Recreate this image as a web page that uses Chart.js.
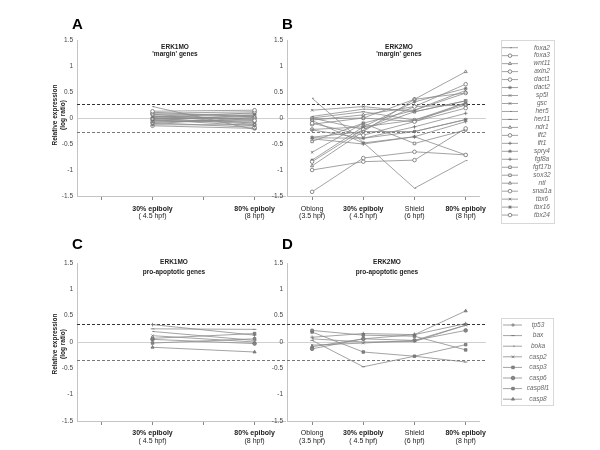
<!DOCTYPE html>
<html>
<head>
<meta charset="utf-8">
<script src="https://cdn.jsdelivr.net/npm/chart.js@4.4.0/dist/chart.umd.min.js"></script>
<style>
  body { margin: 0; background: #fff; width: 600px; height: 450px; position: relative; overflow: hidden; }
  canvas { position: absolute; }
</style>
</head>
<body>
<canvas id="chartA" width="290" height="230" style="left:0;top:0"></canvas>
<canvas id="chartB" width="310" height="230" style="left:250px;top:0"></canvas>
<canvas id="chartC" width="290" height="220" style="left:0;top:230px"></canvas>
<canvas id="chartD" width="310" height="220" style="left:250px;top:230px"></canvas>
<script>
// stages on the x axis
const stages = ['Oblong', '30% epiboly', 'Shield', '80% epiboly'];
const stageHpf = ['(3.5 hpf)', '( 4.5 hpf)', '(6 hpf)', '(8 hpf)'];
const stageBold = [false, true, false, true];
const yTicks = [-1.5, -1, -0.5, 0, 0.5, 1, 1.5];

// 'margin' genes
const marginGenes = ['foxa2', 'foxa3', 'wnt11', 'axin2', 'dact1', 'dact2', 'sp5l', 'gsc', 'her5', 'her11', 'ndr1',
  'lft2', 'lft1', 'spry4', 'fgf8a', 'fgf17b', 'sox32', 'ntl', 'snai1a', 'tbx6', 'tbx16', 'tbx24'];
const marginMarkers = ['dash', 'circle', 'triangle', 'circle', 'circle', 'star', 'crossRot', 'crossRot', 'dash', 'line', 'triangle',
  'circle', 'cross', 'star', 'cross', 'rect', 'rect', 'triangle', 'circle', 'crossRot', 'star', 'circle'];

// ERK1MO, margin genes (log ratio)
const erk1Margin30 = [0.22, 0.13, 0.11, 0.09, 0.07, 0.06, 0.04, 0.03, 0.02, 0.01, 0.0, -0.01, -0.02, -0.03, -0.04, -0.05, -0.06, -0.08, -0.09, -0.11, -0.13, -0.15];
const erk1Margin80 = [-0.22, 0.15, 0.02, 0.12, -0.05, 0.08, -0.1, 0.05, -0.02, 0.1, -0.12, 0.0, 0.03, -0.15, -0.06, 0.06, -0.08, -0.03, -0.18, 0.01, -0.13, -0.2];

// ERK2MO, margin genes
const erk2MarginOblong = [0.38, -1.42, -0.92, -1.0, -0.84, -0.81, -0.66, 0.15, 0.03, 0.0, -0.04, -0.10, -0.23, -0.37, -0.40, -0.45, 0.0, -0.02, -0.22, -0.38, -0.05, -0.12];
const erk2Margin30 = [-0.47, -0.77, -0.26, -0.84, -0.22, -0.17, -0.10, 0.22, 0.17, 0.12, 0.06, -0.33, -0.39, -0.26, -0.50, -0.10, -0.22, 0.0, -0.17, -0.39, -0.48, 0.0];
const erk2MarginShield = [-1.35, -0.65, 0.36, -0.81, 0.22, 0.31, 0.15, 0.12, 0.15, -0.04, 0.22, -0.07, -0.17, -0.26, -0.36, -0.49, 0.12, -0.07, -0.04, -0.26, -0.36, 0.36];
const erk2Margin80 = [-0.82, -0.71, 0.89, -0.20, 0.65, 0.57, 0.53, 0.33, 0.48, 0.29, 0.25, 0.19, 0.09, -0.03, -0.07, -0.23, 0.33, 0.29, 0.25, -0.03, -0.71, 0.48];

// pro-apoptotic genes
const apoGenes = ['tp53', 'bax', 'boka', 'casp2', 'casp3', 'casp6', 'casp8l1', 'casp8'];
const apoMarkers = ['cross', 'line', 'dash', 'crossRot', 'rect', 'circle', 'rect', 'triangle'];

const erk1Apo30 = [0.33, 0.25, 0.20, 0.12, 0.07, 0.05, -0.02, -0.10];
const erk1Apo80 = [0.13, 0.24, 0.03, 0.0, 0.16, -0.03, 0.06, -0.19];

const erk2ApoOblong = [0.09, 0.03, 0.06, -0.06, 0.22, -0.13, 0.19, -0.09];
const erk2Apo30 = [0.16, -0.47, 0.0, -0.02, 0.13, 0.06, -0.19, 0.06];
const erk2ApoShield = [0.14, -0.27, 0.01, 0.03, 0.11, 0.03, -0.27, 0.14];
const erk2Apo80 = [0.35, -0.38, 0.32, 0.32, -0.15, 0.22, -0.05, 0.59];

const family = "'Liberation Sans', Arial, sans-serif";
Chart.defaults.font.family = family;

// turns per-stage arrays into one dataset per gene
function makeDatasets(genes, markers, columns, fill) {
  return genes.map((g, i) => ({
    label: g,
    data: columns.map(c => ({ x: c.stage + 1, y: c.values[i] })),
    borderColor: '#8c8c8c',
    borderWidth: 0.8,
    pointStyle: markers[i],
    pointRadius: 1.8,
    pointBorderWidth: 0.8,
    pointBorderColor: '#707070',
    pointBackgroundColor: fill
  }));
}

const panelDecor = {
  id: 'panelDecor',
  beforeDatasetsDraw(chart, args, o) {
    const { ctx, chartArea: a, scales: { y } } = chart;
    const x1 = a.right + o.refExtend;
    ctx.save();
    ctx.lineWidth = 1;
    ctx.strokeStyle = '#d0d0d0';
    let py = Math.round(y.getPixelForValue(0)) + 0.5;
    ctx.beginPath(); ctx.moveTo(a.left, py); ctx.lineTo(x1, py); ctx.stroke();
    ctx.setLineDash([3, 2]);
    [o.cutoff, -o.cutoff].forEach((v, i) => {
      ctx.strokeStyle = i ? '#777' : '#333';
      py = Math.round(y.getPixelForValue(v)) + 0.5;
      ctx.beginPath(); ctx.moveTo(a.left, py); ctx.lineTo(x1, py); ctx.stroke();
    });
    ctx.restore();
  },
  afterDraw(chart, args, o) {
    const { ctx, chartArea: a, scales: { x } } = chart;
    ctx.save();
    ctx.fillStyle = '#222';
    ctx.textAlign = 'center';
    ctx.textBaseline = 'middle';
    o.stageIdx.forEach(i => {
      const px = x.getPixelForValue(i + 1);
      ctx.font = (stageBold[i] ? 'bold ' : '') + '7px ' + family;
      ctx.fillText(stages[i], px, a.bottom + o.labelDy[0]);
      ctx.font = '7px ' + family;
      ctx.fillText(stageHpf[i], px, a.bottom + o.labelDy[1]);
    });
    ctx.font = 'bold 6.5px ' + family;
    o.title.forEach((t, k) => ctx.fillText(t, o.titleX, o.titleY[k]));

    if (o.yTitle) {
      ctx.save();
      ctx.translate(o.yTitle[0], o.yTitle[1]);
      ctx.rotate(-Math.PI / 2);
      ctx.font = 'bold 6.5px ' + family;
      ctx.fillText('Relative expression', 0, 0);
      ctx.fillText('(log ratio)', 0, 8);
      ctx.restore();
    }

    ctx.font = 'bold 15px ' + family;
    ctx.fillStyle = '#000';
    ctx.textAlign = 'left';
    ctx.textBaseline = 'alphabetic';
    ctx.fillText(o.letter, o.letterPos[0], o.letterPos[1]);

    const L = o.legend;
    if (L) {
      ctx.strokeStyle = '#d8d8d8';
      ctx.lineWidth = 1;
      ctx.strokeRect(L.box[0] + 0.5, L.box[1] + 0.5, L.box[2], L.box[3]);
      chart.data.datasets.forEach((ds, i) => {
        const ry = L.rowY + i * L.rowH;
        ctx.strokeStyle = ds.borderColor;
        ctx.lineWidth = 0.8;
        ctx.beginPath(); ctx.moveTo(L.line[0], ry); ctx.lineTo(L.line[1], ry); ctx.stroke();
        ctx.fillStyle = ds.pointBackgroundColor;
        ctx.strokeStyle = ds.pointBorderColor;
        ctx.lineWidth = ds.pointBorderWidth;
        Chart.helpers.drawPoint(ctx, { pointStyle: ds.pointStyle, radius: ds.pointRadius, borderWidth: ds.pointBorderWidth, rotation: 0 }, L.markX, ry);
        ctx.fillStyle = '#666';
        ctx.font = 'italic 6.5px ' + family;
        ctx.textAlign = 'center';
        ctx.textBaseline = 'middle';
        ctx.fillText(ds.label, L.textX, ry);
      });
    }
    ctx.restore();
  }
};

function panelConfig(datasets, p) {
  return {
    type: 'line',
    data: { datasets },
    options: {
      responsive: false,
      animation: false,
      events: [],
      layout: { padding: p.padding },
      elements: { line: { tension: 0 } },
      plugins: { legend: { display: false }, tooltip: { enabled: false }, panelDecor: p.decor },
      scales: {
        x: {
          type: 'linear', min: p.xMin, max: p.xMax,
          afterBuildTicks: s => { s.ticks = stages.map((_, i) => ({ value: i + 1 })); },
          afterFit: s => { s.height = 4; },
          ticks: { display: false },
          grid: { display: true, drawOnChartArea: false, drawTicks: true, tickLength: 4, color: '#888' },
          border: { display: true, color: '#c4c4c4' }
        },
        y: {
          min: -1.5, max: 1.5,
          afterBuildTicks: s => { s.ticks = yTicks.map(v => ({ value: v })); },
          afterFit: s => { s.width = 20; },
          ticks: { font: { size: 6.5 }, color: '#444', padding: 4, callback: v => String(v) },
          grid: { display: false, drawTicks: false },
          border: { display: true, color: '#c4c4c4' }
        }
      }
    },
    plugins: [panelDecor]
  };
}

new Chart(document.getElementById('chartA'), panelConfig(
  makeDatasets(marginGenes, marginMarkers, [
    { stage: 1, values: erk1Margin30 }, { stage: 3, values: erk1Margin80 }], '#fff'),
  {
    padding: { left: 57, right: 3, top: 40, bottom: 30 }, xMin: 0.52, xMax: 4.6,
    decor: { cutoff: 0.26, refExtend: 0, stageIdx: [1, 3], labelDy: [13, 20],
      title: ['ERK1MO', "'margin' genes"], titleX: 175, titleY: [47, 54],
      yTitle: [55, 115], letter: 'A', letterPos: [72, 29] }
  }));

new Chart(document.getElementById('chartB'), panelConfig(
  makeDatasets(marginGenes, marginMarkers, [
    { stage: 0, values: erk2MarginOblong }, { stage: 1, values: erk2Margin30 },
    { stage: 2, values: erk2MarginShield }, { stage: 3, values: erk2Margin80 }], '#fff'),
  {
    padding: { left: 17, right: 81, top: 40, bottom: 30 }, xMin: 0.51, xMax: 4.26,
    decor: { cutoff: 0.26, refExtend: 7, stageIdx: [0, 1, 2, 3], labelDy: [13, 20],
      title: ['ERK2MO', "'margin' genes"], titleX: 149, titleY: [47, 54],
      letter: 'B', letterPos: [32, 29],
      legend: { box: [251, 40, 53, 183], rowY: 47.7, rowH: 7.97, line: [252, 268], markX: 260, textX: 292 } }
  }));

new Chart(document.getElementById('chartC'), panelConfig(
  makeDatasets(apoGenes, apoMarkers, [
    { stage: 1, values: erk1Apo30 }, { stage: 3, values: erk1Apo80 }], '#888'),
  {
    padding: { left: 57, right: 3, top: 33, bottom: 25 }, xMin: 0.52, xMax: 4.6,
    decor: { cutoff: 0.35, refExtend: 0, stageIdx: [1, 3], labelDy: [12, 20],
      title: ['ERK1MO', 'pro-apoptotic genes'], titleX: 174, titleY: [32, 42],
      yTitle: [55, 114], letter: 'C', letterPos: [72, 19] }
  }));

new Chart(document.getElementById('chartD'), panelConfig(
  makeDatasets(apoGenes, apoMarkers, [
    { stage: 0, values: erk2ApoOblong }, { stage: 1, values: erk2Apo30 },
    { stage: 2, values: erk2ApoShield }, { stage: 3, values: erk2Apo80 }], '#888'),
  {
    padding: { left: 17, right: 81, top: 33, bottom: 25 }, xMin: 0.51, xMax: 4.26,
    decor: { cutoff: 0.35, refExtend: 7, stageIdx: [0, 1, 2, 3], labelDy: [12, 20],
      title: ['ERK2MO', 'pro-apoptotic genes'], titleX: 137, titleY: [32, 42],
      letter: 'D', letterPos: [32, 19],
      legend: { box: [251, 88, 52, 87], rowY: 95, rowH: 10.6, line: [253, 272], markX: 263, textX: 288 } }
  }));
</script>
</body>
</html>
